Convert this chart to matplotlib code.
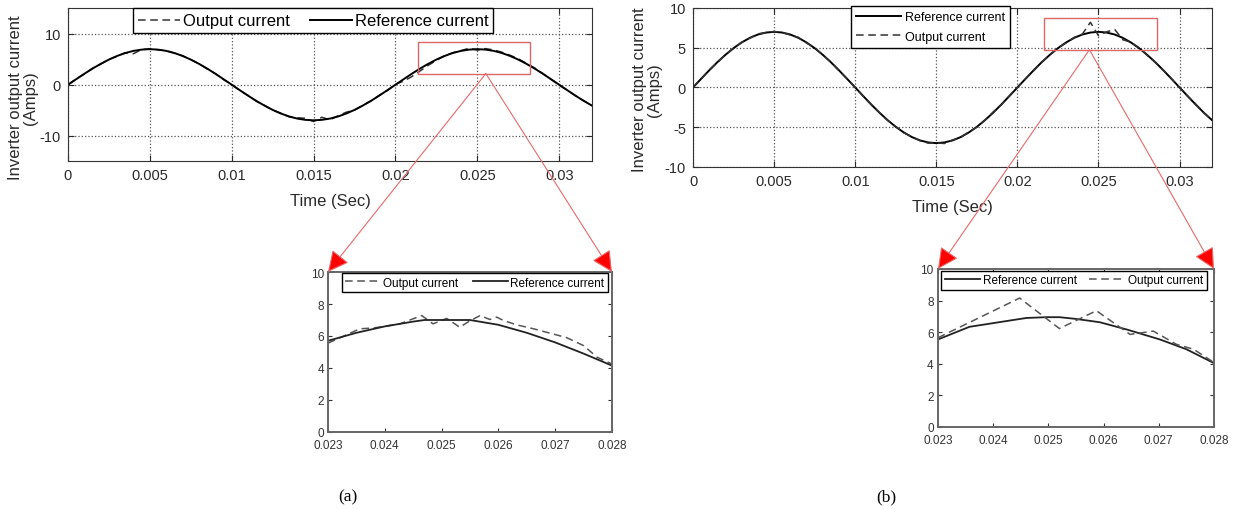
#
# Inverter output current vs reference current, with zoomed insets
#

import numpy as np
import matplotlib.pyplot as plt
from matplotlib.patches import Rectangle, ConnectionPatch

plt.rcParams.update(
    {
        "font.family": ["Liberation Sans", "DejaVu Sans"],
        "axes.unicode_minus": False,
        "xtick.direction": "in",
        "ytick.direction": "in",
        "xtick.top": True,
        "ytick.right": True,
        "legend.fancybox": False,
        "legend.framealpha": 1.0,
        "legend.edgecolor": "black",
    }
)

# ---- data ----
t_main = np.arange(65) * 0.0005

ref_main = [0, 1.09, 2.16, 3.18, 4.11, 4.95, 5.66, 6.24, 6.66, 6.91,
            7.0, 6.91, 6.66, 6.24, 5.66, 4.95, 4.11, 3.18, 2.16, 1.09,
            0, -1.09, -2.16, -3.18, -4.11, -4.95, -5.66, -6.24, -6.66, -6.91,
            -7.0, -6.91, -6.66, -6.24, -5.66, -4.95, -4.11, -3.18, -2.16, -1.09,
            0, 1.09, 2.16, 3.18, 4.11, 4.95, 5.66, 6.24, 6.66, 6.91,
            7.0, 6.91, 6.66, 6.24, 5.66, 4.95, 4.11, 3.18, 2.16, 1.09,
            0, -1.09, -2.16, -3.18, -4.11]

out_main_a = [0, 1.15, 2.1, 3.25, 4.05, 5.0, 5.6, 6.3, 6.1, 6.95,
              7.05, 6.85, 6.7, 6.2, 5.7, 4.9, 4.15, 3.1, 2.2, 1.0,
              0.05, -1.15, -2.1, -3.25, -4.05, -5.0, -5.6, -6.3, -6.5, -6.6,
              -7.25, -6.4, -6.9, -6.1, -5.4, -5.0, -4.05, -3.2, -2.1, -1.15,
              0.1, 0.7, 1.6, 2.7, 3.8, 4.8, 5.7, 6.3, 6.7, 7.2,
              6.8, 7.1, 6.85, 6.4, 5.8, 5.1, 4.2, 3.3, 2.2, 1.05,
              -0.1, -1.1, -2.2, -3.15, -4.1]

out_main_b = [0, 1.1, 2.2, 3.15, 4.15, 4.9, 5.7, 6.2, 6.75, 6.9,
              7.05, 6.9, 6.6, 6.3, 5.6, 5.0, 4.1, 3.2, 2.1, 1.1,
              0, -1.1, -2.2, -3.15, -4.15, -4.9, -5.7, -6.2, -6.7, -7.0,
              -6.95, -7.05, -6.6, -6.3, -5.6, -5.0, -4.1, -3.1, -2.2, -1.05,
              0.05, 1.1, 2.1, 3.2, 4.1, 5.0, 5.6, 6.3, 6.7, 8.2,
              6.5, 7.0, 7.3, 6.0, 5.7, 5.0, 4.05, 3.2, 2.15, 1.1,
              0, -1.1, -2.1, -3.2, -4.1]

# zoomed window, panel (a)
t_zref_a = [0.023, 0.0235, 0.024, 0.0245, 0.0247, 0.0255, 0.026, 0.0265, 0.027, 0.0275, 0.028]
ref_zoom_a = [5.7, 6.2, 6.6, 6.9, 7.0, 7.0, 6.7, 6.2, 5.6, 4.9, 4.15]
t_zout_a = [0.023, 0.02356, 0.0238, 0.02426, 0.02465, 0.02485, 0.02509, 0.02532, 0.0255,
            0.02568, 0.02585, 0.02597, 0.02609, 0.02632, 0.02662, 0.0272, 0.0275, 0.02774, 0.028]
out_zoom_a = [5.55, 6.45, 6.5, 6.75, 7.28, 6.76, 7.1, 6.55, 6.95,
              7.28, 7.03, 7.18, 6.97, 6.7, 6.45, 5.9, 5.4, 4.67, 4.25]

# zoomed window, panel (b)
t_zref_b = [0.023, 0.02357, 0.0246, 0.02496, 0.0252, 0.0255, 0.02593, 0.02642, 0.02702, 0.0275, 0.028]
ref_zoom_b = [5.54, 6.34, 6.9, 6.95, 6.95, 6.84, 6.63, 6.17, 5.54, 4.92, 4.04]
t_zout_b = [0.023, 0.02448, 0.0252, 0.02587, 0.02648, 0.0269, 0.02732, 0.02763, 0.028]
out_zoom_b = [5.65, 8.16, 6.23, 7.36, 5.86, 6.07, 5.23, 4.92, 4.08]

main_xticks = [0, 0.005, 0.01, 0.015, 0.02, 0.025, 0.03]
main_xlabels = ["0", "0.005", "0.01", "0.015", "0.02", "0.025", "0.03"]
zoom_xticks = [0.023, 0.024, 0.025, 0.026, 0.027, 0.028]
zoom_xlabels = ["0.023", "0.024", "0.025", "0.026", "0.027", "0.028"]

ylabel = "Inverter output current\n(Amps)"
dash = (0, (5, 3))
txt = "#2a2a2a"

fig = plt.figure(figsize=(12.34, 5.10), dpi=100)
ax_a = fig.add_axes([0.0551, 0.6824, 0.4246, 0.299])
ax_b = fig.add_axes([0.5616, 0.6706, 0.4206, 0.3118])
in_a = fig.add_axes([0.2658, 0.151, 0.2301, 0.3137])
in_b = fig.add_axes([0.7601, 0.1608, 0.2237, 0.3098])


def style_main(ax, yticks, ylab_xy):
    ax.set_xlim(0, 0.032)
    ax.set_xticks(main_xticks)
    ax.set_xticklabels(main_xlabels)
    ax.set_yticks(yticks)
    ax.tick_params(labelsize=10.5, length=4, colors=txt, pad=5)
    ax.grid(True, linestyle=":", color="#555", linewidth=0.9)
    for s in ax.spines.values():
        s.set_color("#333")
    ax.set_xlabel("Time (Sec)", fontsize=12, labelpad=8, color=txt)
    ax.set_ylabel(ylabel, fontsize=12, color=txt, linespacing=1.0)
    ax.yaxis.set_label_coords(*ylab_xy)


def style_zoom(ax):
    ax.set_xlim(0.023, 0.028)
    ax.set_ylim(0, 10)
    ax.set_xticks(zoom_xticks)
    ax.set_xticklabels(zoom_xlabels)
    ax.set_yticks([0, 2, 4, 6, 8, 10])
    ax.tick_params(labelsize=8.5, length=3, colors="#333")
    ax.tick_params(axis="x", pad=5)
    ax.tick_params(axis="y", pad=3)
    for s in ax.spines.values():
        s.set_color("#666")
        s.set_linewidth(1.4)


# (a) main
ax_a.plot(t_main, out_main_a, color="#333", linestyle=dash, lw=1.1, label="Output current")
ax_a.plot(t_main, ref_main, color="black", lw=1.4, label="Reference current")
ax_a.set_ylim(-15, 15)
style_main(ax_a, [-10, 0, 10], (-0.058, 0.42))
ax_a.legend(loc="upper left", bbox_to_anchor=(0.124, 1.0), borderaxespad=0, ncol=2,
            fontsize=12, handlelength=2.5, columnspacing=1.2, handletextpad=0.2,
            borderpad=0.3)

# (b) main
l_ref, = ax_b.plot(t_main, ref_main, color="black", lw=1.4, label="Reference current")
l_out, = ax_b.plot(t_main, out_main_b, color="#333", linestyle=dash, lw=1.1, label="Output current")
ax_b.set_ylim(-10, 10)
style_main(ax_b, [-10, -5, 0, 5, 10], (-0.06, 0.49))
ax_b.legend(handles=[l_ref, l_out], loc="upper left", bbox_to_anchor=(0.304, 1.012),
            borderaxespad=0, fontsize=9, handlelength=3.6, handletextpad=0.3,
            borderpad=0.4, labelspacing=0.6)

# (a) zoom
in_a.plot(t_zout_a, out_zoom_a, color="#555", linestyle=dash, lw=1.1, label="Output current")
in_a.plot(t_zref_a, ref_zoom_a, color="#222", lw=1.3, label="Reference current")
style_zoom(in_a)
in_a.legend(loc="upper left", bbox_to_anchor=(0.049, 0.994), borderaxespad=0, ncol=2,
            fontsize=8.5, handlelength=3.0, columnspacing=1.2, handletextpad=0.2,
            borderpad=0.3)

# (b) zoom
z_ref, = in_b.plot(t_zref_b, ref_zoom_b, color="#222", lw=1.3, label="Reference current")
z_out, = in_b.plot(t_zout_b, out_zoom_b, color="#555", linestyle=dash, lw=1.1, label="Output current")
style_zoom(in_b)
in_b.legend(handles=[z_ref, z_out], loc="upper left", bbox_to_anchor=(0.011, 0.988),
            borderaxespad=0, ncol=2, fontsize=8.5, handlelength=3.0,
            columnspacing=1.0, handletextpad=0.3, borderpad=0.3)

# red zoom boxes and arrows
boxes = [(ax_a, in_a, (0.02136, 2.2), 0.00684, 6.2, (0.02552, 2.2)),
         (ax_b, in_b, (0.02167, 4.75), 0.00691, 4.0, (0.02444, 4.75))]
for ax, ins, xy, w, h, apex in boxes:
    ax.add_patch(Rectangle(xy, w, h, fill=False, edgecolor="#e06666", lw=1.0, zorder=5))
    for corner in [(0, 1), (1, 1)]:
        con = ConnectionPatch(xyA=apex, coordsA=ax.transData,
                              xyB=corner, coordsB=ins.transAxes,
                              arrowstyle="-|>,head_length=1.0,head_width=0.5",
                              edgecolor="#e86a6a", facecolor="red", lw=0.8,
                              mutation_scale=13, shrinkA=0, shrinkB=0)
        fig.add_artist(con)

fig.text(0.282, 0.0255, "(a)", fontsize=12.5, family="Liberation Serif", ha="center", va="center")
fig.text(0.718, 0.0255, "(b)", fontsize=12.5, family="Liberation Serif", ha="center", va="center")

fig.savefig("out.png", dpi=100)
